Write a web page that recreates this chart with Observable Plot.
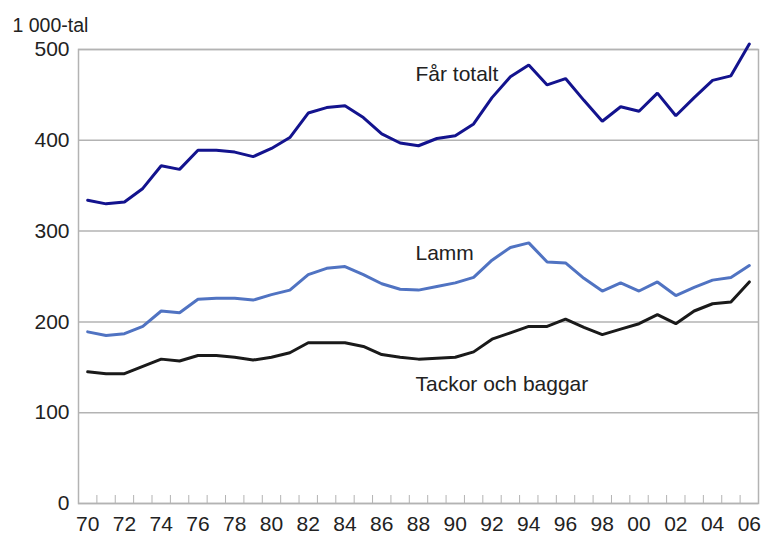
<!DOCTYPE html>
<html><head><meta charset="utf-8">
<script src="https://cdn.jsdelivr.net/npm/d3@7"></script>
<script src="https://cdn.jsdelivr.net/npm/@observablehq/plot@0.6"></script>
<style>body{margin:0;background:#fff}</style>
</head><body><div id="chart"></div>
<script>
const years = [1970,1971,1972,1973,1974,1975,1976,1977,1978,1979,1980,1981,1982,1983,1984,1985,1986,1987,1988,1989,1990,1991,1992,1993,1994,1995,1996,1997,1998,1999,2000,2001,2002,2003,2004,2005,2006];
const farTotalt = [334,330,332,347,372,368,389,389,387,382,391,403,430,436,438,425,407,397,394,402,405,418,447,470,483,461,468,444,421,437,432,452,427,447,466,471,506];
const lamm = [189,185,187,195,212,210,225,226,226,224,230,235,252,259,261,252,242,236,235,239,243,249,268,282,287,266,265,248,234,243,234,244,229,238,246,249,262];
const tackor = [145,143,143,151,159,157,163,163,161,158,161,166,177,177,177,173,164,161,159,160,161,167,181,188,195,195,203,194,186,192,198,208,198,212,220,222,244];
const xTickYears = [1970,1972,1974,1976,1978,1980,1982,1984,1986,1988,1990,1992,1994,1996,1998,2000,2002,2004,2006];
const yTicks = [0,100,200,300,400,500];
const seriesNames = ["Får totalt","Lamm","Tackor och baggar"];
const seriesColors = ["#13138e","#5073c2","#1a1a1a"];
const labelYear = [1988,1988,1988];
const labelValue = [473,276,131];
const unitLabel = "1 000-tal";

const seriesValues = [farTotalt, lamm, tackor];
const rows = [];
seriesNames.forEach((name, i) => years.forEach((yr, j) => rows.push({series: name, year: yr, value: seriesValues[i][j]})));
const labels = seriesNames.map((name, i) => ({name, year: labelYear[i], value: labelValue[i]}));
const betweenTicks = years.slice(1).map(y => y - 0.5);

const font = "'Liberation Sans', Arial, sans-serif";
const chart = Plot.plot({
  width: 767, height: 537,
  marginLeft: 78, marginRight: 9, marginTop: 49, marginBottom: 34,
  style: {fontFamily: font, fontSize: "21px", color: "#222", background: "#fff"},
  x: {domain: [1969.5, 2006.5]},
  y: {domain: [0, 500]},
  color: {domain: seriesNames, range: seriesColors},
  marks: [
    Plot.gridY(yTicks, {stroke: "#b3b3b3", strokeOpacity: 1, strokeWidth: 1.5}),
    Plot.frame({stroke: "#b3b3b3", strokeWidth: 1.5}),
    Plot.axisX(betweenTicks, {tickSize: -8, tickFormat: () => "", stroke: "#b3b3b3", strokeWidth: 1, label: null}),
    Plot.axisX(xTickYears, {tickSize: 0, tickPadding: 13, tickFormat: d => String(d % 100).padStart(2, "0"), label: null, fontSize: 21, fill: "#222"}),
    Plot.axisY(yTicks, {tickSize: 0, tickPadding: 9, label: null, fontSize: 21, fill: "#222"}),
    Plot.line(rows, {x: "year", y: "value", z: "series", stroke: "series", strokeWidth: 3, strokeLinejoin: "miter"}),
    Plot.text(labels, {x: "year", y: "value", text: "name", textAnchor: "start", dx: -3, fontSize: 21, fill: "#222", style: "word-spacing: 2px"}),
    Plot.text([unitLabel], {frameAnchor: "top-left", textAnchor: "start", dx: -66, dy: -31, fontSize: 19.5, fill: "#222"})
  ]
});
document.getElementById("chart").append(chart);
</script>
</body></html>
